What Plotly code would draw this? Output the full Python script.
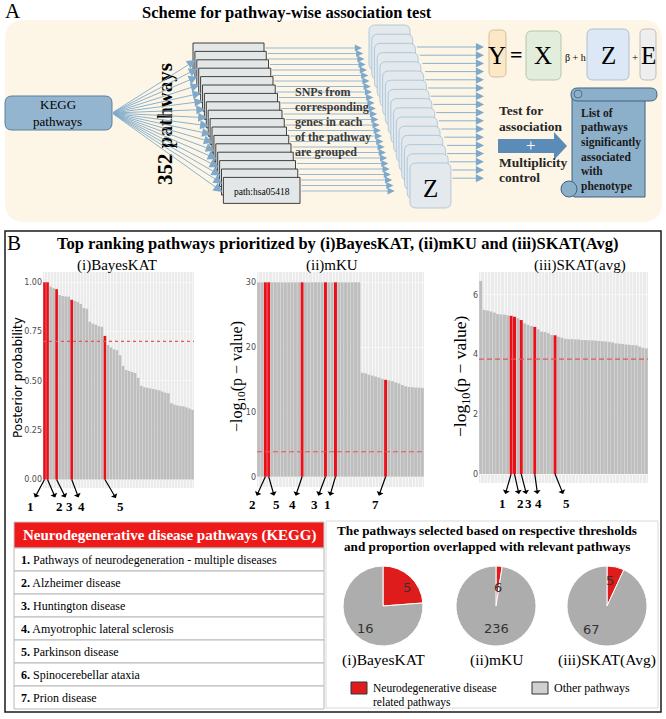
import plotly.graph_objects as go

W, H = 666, 719
SERIF = "Liberation Serif, Times New Roman, serif"
SANS = "DejaVu Sans, Arial, sans-serif"

# ---------------- data ----------------
bar_index = list(range(50))

bayes_values = [1.00, 1.00, 0.978, 0.970, 0.965, 0.935, 0.930, 0.928, 0.927, 0.911,
                0.906, 0.900, 0.890, 0.870, 0.866, 0.800, 0.790, 0.785, 0.777, 0.774,
                0.728, 0.682, 0.670, 0.660, 0.655, 0.630, 0.576, 0.555, 0.550, 0.545,
                0.540, 0.515, 0.475, 0.468, 0.465, 0.462, 0.459, 0.455, 0.452, 0.446,
                0.440, 0.437, 0.387, 0.380, 0.376, 0.372, 0.371, 0.366, 0.360, 0.353]
bayes_highlight = [0, 1, 4, 9, 20]
bayes_numbers = ["1", "2", "3", "4", "5"]
bayes_threshold = 0.70
bayes_tickvals = [0, 0.25, 0.5, 0.75, 1.0]
bayes_ticktext = ["0.00", "0.25", "0.50", "0.75", "1.00"]

mku_values = [30, 30, 30, 30, 30, 30, 30, 30, 30, 30,
              30, 30, 30, 30, 30, 30, 30, 30, 30, 30,
              30, 30, 30, 30, 30, 30, 30, 30, 30, 30,
              30, 16.05, 15.95, 15.75, 15.6, 15.45, 15.3, 15.1, 14.95, 14.85,
              14.75, 14.55, 14.4, 14.15, 13.95, 13.85, 13.8, 13.75, 13.75, 13.7]
mku_highlight = [2, 3, 13, 20, 23, 38]
mku_numbers = ["2", "5", "4", "3", "1", "7"]
mku_threshold = 3.85
mku_tickvals = [0, 10, 20, 30]

skat_values = [6.47, 5.50, 5.48, 5.45, 5.41, 5.36, 5.35, 5.34, 5.32, 5.30,
               5.27, 5.22, 5.16, 5.05, 5.00, 4.96, 4.93, 4.85, 4.77, 4.76,
               4.72, 4.66, 4.65, 4.60, 4.57, 4.53, 4.52, 4.52, 4.51, 4.51,
               4.49, 4.49, 4.48, 4.48, 4.47, 4.46, 4.45, 4.44, 4.43, 4.41,
               4.38, 4.37, 4.36, 4.34, 4.33, 4.32, 4.31, 4.27, 4.23, 4.21]
skat_highlight = [9, 10, 12, 16, 22]
skat_numbers = ["1", "2", "3", "4", "5"]
skat_threshold = 3.85
skat_tickvals = [0, 2, 4, 6]

pie_methods = ["(i)BayesKAT", "(ii)mKU", "(iii)SKAT(Avg)"]
pie_neuro = [5, 6, 5]
pie_other = [16, 236, 67]
pie_categories = ["Neurodegenerative disease related pathways", "Other pathways"]

table_header = "Neurodegenerative disease pathways (KEGG)"
table_numbers = ["1.", "2.", "3.", "4.", "5.", "6.", "7."]
table_names = ["Pathways of neurodegeneration - multiple diseases", "Alzheimer disease",
               "Huntington disease", "Amyotrophic lateral sclerosis", "Parkinson disease",
               "Spinocerebellar ataxia", "Prion disease"]

# ---------------- colours ----------------
RED = "#e8101a"
GRAY_BAR = "#bebebe"
PIE_RED = "#df1c1c"
PIE_GRAY = "#adadad"
ARROW_BLUE = "#7fa9cb"


def fx(x):
    return x / W


def fy(y):
    return 1 - y / H


def pt(x, y):
    return f"{fx(x):.5f},{fy(y):.5f}"


def rrect_path(x0, y0, x1, y1, r):
    return (f"M {pt(x0 + r, y0)} L {pt(x1 - r, y0)} Q {pt(x1, y0)} {pt(x1, y0 + r)} "
            f"L {pt(x1, y1 - r)} Q {pt(x1, y1)} {pt(x1 - r, y1)} L {pt(x0 + r, y1)} "
            f"Q {pt(x0, y1)} {pt(x0, y1 - r)} L {pt(x0, y0 + r)} Q {pt(x0, y0)} {pt(x0 + r, y0)} Z")


def poly_path(points):
    return "M " + " L ".join(pt(x, y) for x, y in points) + " Z"


shapes = []
annotations = []


def add_path(path, fill, lc=None, lw=0):
    shapes.append(dict(type="path", path=path, xref="paper", yref="paper", fillcolor=fill,
                       line=dict(color=lc or fill, width=lw)))


def add_rect(x0, y0, x1, y1, fill, lc, lw):
    shapes.append(dict(type="rect", xref="paper", yref="paper", x0=fx(x0), x1=fx(x1),
                       y0=fy(y1), y1=fy(y0), fillcolor=fill, line=dict(color=lc, width=lw)))


def add_circle(cx, cy, r, fill, lc, lw):
    shapes.append(dict(type="circle", xref="paper", yref="paper", x0=fx(cx - r), x1=fx(cx + r),
                       y0=fy(cy + r), y1=fy(cy - r), fillcolor=fill, line=dict(color=lc, width=lw)))


def T(x, y, text, size, color="black", family=SERIF, xanchor="center", angle=0, bold=False):
    annotations.append(dict(x=fx(x), y=fy(y), xref="paper", yref="paper",
                            text=("<b>" + text + "</b>") if bold else text, showarrow=False,
                            font=dict(family=family, size=size, color=color),
                            xanchor=xanchor, yanchor="middle", textangle=angle))


def ARW(tx, ty, hx, hy, color=ARROW_BLUE, width=0.9, size=2.0):
    annotations.append(dict(x=fx(hx), y=fy(hy), xref="paper", yref="paper",
                            ax=tx - hx, ay=ty - hy, axref="pixel", ayref="pixel", text="",
                            showarrow=True, arrowhead=2, arrowsize=size, arrowwidth=width,
                            arrowcolor=color))


# =================== PART A : scheme ===================
add_path(rrect_path(5, 20, 662, 222, 20), "#fdf6e6")
T(13, 11, "A", 21)
T(287, 12, "Scheme for pathway-wise association test", 16.5, bold=True)

# KEGG box
add_path(rrect_path(5, 96, 112, 130, 7), "#94b5cf", "#5d7f9c", 1)
T(58, 105, "KEGG", 13)
T(58, 121, "pathways", 13)
T(165, 124, "352 pathways", 21, angle=-90, bold=True)

# stack of pathway boxes
rects = []
for i in range(17):
    left = 193 + 1.9 * i
    top = 43 + 8.4 * i
    width = 71 + 0.35 * i
    rects.append((left, top, left + width, top + 26))
for (l, t, r, b) in rects:
    add_rect(l, t, r, b, "#e4e7e7", "#2e2e2e", 0.9)
T(262, 192, "path:hsa05418", 9.5)


def rect_at(y):
    idx = 0
    for i, (l, t, r, b) in enumerate(rects):
        if t <= y <= b:
            idx = i
    return rects[idx]


for i in range(17):
    hy = 60 + 8.25 * i
    l, t, r, b = rect_at(hy)
    ARW(112, 113, l - 1, hy)

# Z cards
cards = []
for j in range(16):
    l = 369 + 2.73 * j
    t = 25 + 9.2 * j
    cards.append((l, t, l + 41, t + 45))
for (l, t, r, b) in cards:
    add_path(rrect_path(l, t, r, b, 6), "#e3e9ec", "#a3c0d8", 0.8)
T(430, 188, "Z", 25)


def card_at(y):
    idx = 0
    for j, (l, t, r, b) in enumerate(cards):
        if t <= y <= b:
            idx = j
    return cards[idx]


for k in range(27):
    y = 48 + 5.5 * k
    l, t, r, b = rect_at(y)
    ARW(r, y, 362 + (y - 48) * 0.229, y, width=0.8, size=1.8)

for n, line in enumerate(["SNPs from", "corresponding", "genes in each", "of the pathway", "are grouped"]):
    T(293, 92 + 15 * n, line, 12, color="#3a3a3a", xanchor="left", bold=True)

for m in range(17):
    y = 47 + 8.2 * m
    l, t, r, b = card_at(y)
    ARW(r, y, 484, y, width=0.9, size=1.8)

# equation boxes
add_path(rrect_path(489, 30, 506, 77, 5), "#fce8c6", "#c8b48e", 0.8)
add_path(rrect_path(526, 31, 561, 80, 6), "#e2eedb", "#a6bda0", 0.8)
add_path(rrect_path(587, 29, 629, 80, 6), "#dce8f5", "#9ab3cc", 0.8)
add_path(rrect_path(640, 29, 656, 80, 5), "#eeeeee", "#b0b0b0", 0.8)
T(497, 56, "Y", 25)
T(516, 55, "=", 22, bold=True)
T(543, 56, "X", 25)
T(575, 57, "β + h", 10)
T(608, 56, "Z", 25)
T(635, 57, "+", 11)
T(648, 56, "E", 25)

# big arrow
add_path(poly_path([(498, 139), (554, 139), (554, 132), (567, 146), (554, 160), (554, 153), (498, 153)]),
         "#5b8cb8")
T(531, 145, "+", 17, color="white")
for line, yy in [("Test for", 110), ("association", 127), ("Multiplicity", 162), ("control", 178)]:
    T(497, yy, line, 13.5, color="#262626", xanchor="left", bold=True)

# scroll
SC_F, SC_L = "#8db0ca", "#3f6282"
add_path(poly_path([(572, 94), (645, 94), (645, 197), (574, 197), (572, 190)]), SC_F, SC_L, 1)
add_circle(569, 189, 8, SC_F, SC_L, 1)
add_path(rrect_path(571, 88, 657, 101, 6.5), SC_F, SC_L, 1)
add_circle(578, 94, 4, SC_F, SC_L, 0.8)
for n, line in enumerate(["List of", "pathways", "significantly", "associated", "with", "phenotype"]):
    T(579, 113 + 14.6 * n, line, 11.5, color="#1a1a1a", xanchor="left", bold=True)

# =================== PART B ===================
add_rect(5, 231, 661, 712, "rgba(0,0,0,0)", "#1a1a1a", 1.5)
T(14, 243, "B", 21)
T(338, 243, "Top ranking pathways prioritized by (i)BayesKAT, (ii)mKU and (iii)SKAT(Avg)", 16.5, bold=True)

panels = [
    dict(vals=bayes_values, hl=bayes_highlight, nums=bayes_numbers, thr=bayes_threshold,
         tv=bayes_tickvals, tt=bayes_ticktext, x=(43, 194), y=(272, 488), rng=[-0.043, 1.052],
         title="(i)BayesKAT", tx=117, dash="3px,3px",
         dx=[-14.5, 11.5, 13.4, 10.3, 16], ay=27),
    dict(vals=mku_values, hl=mku_highlight, nums=mku_numbers, thr=mku_threshold,
         tv=mku_tickvals, tt=[str(v) for v in mku_tickvals], x=(257, 424), y=(272, 487),
         rng=[-1.59, 31.59], title="(ii)mKU", tx=332, dash="5px,3px",
         dx=[-12.7, 8, -9.4, -10.5, -8.2, -9.9], ay=28),
    dict(vals=skat_values, hl=skat_highlight, nums=skat_numbers, thr=skat_threshold,
         tv=skat_tickvals, tt=[str(v) for v in skat_tickvals], x=(479, 648), y=(272, 483),
         rng=[-0.30, 6.77], title="(iii)SKAT(avg)", tx=580, dash="5px,3px",
         dx=[-8.4, 6.5, 7.5, 4, 11.7], ay=29),
]

fig = go.Figure()
layout_axes = {}
for k, p in enumerate(panels):
    sfx = "" if k == 0 else str(k + 1)
    xa, ya = "x" + sfx, "y" + sfx
    colors = [RED if i in p["hl"] else GRAY_BAR for i in bar_index]
    fig.add_trace(go.Bar(x=bar_index, y=p["vals"], marker=dict(color=colors, line=dict(width=0)),
                         xaxis=xa, yaxis=ya, hoverinfo="skip", showlegend=False))
    layout_axes["xaxis" + sfx] = dict(domain=[fx(p["x"][0]), fx(p["x"][1])], anchor=ya,
                                      range=[-0.5, 49.5], showticklabels=False, showgrid=True,
                                      gridcolor="#f7f7f7", gridwidth=0.5, dtick=1, tick0=0,
                                      zeroline=False, ticks="", showline=False, fixedrange=True)
    layout_axes["yaxis" + sfx] = dict(domain=[fy(p["y"][1]), fy(p["y"][0])], anchor=xa,
                                      range=p["rng"], tickvals=p["tv"], ticktext=p["tt"],
                                      tickfont=dict(family=SANS, size=8, color="#4d4d4d"),
                                      showgrid=True, gridcolor="#f7f7f7", gridwidth=0.6,
                                      zeroline=False, ticks="", showline=False, fixedrange=True)
    shapes.append(dict(type="line", xref=xa + " domain", x0=0, x1=1, yref=ya,
                       y0=p["thr"], y1=p["thr"], line=dict(color="#e05858", width=1.2, dash=p["dash"])))
    T(p["tx"], 265, p["title"], 15)
    for idx, lab, dx in zip(p["hl"], p["nums"], p["dx"]):
        annotations.append(dict(x=idx, y=0, xref=xa, yref=ya, text="<b>" + lab + "</b>",
                                showarrow=True, arrowhead=2, arrowside="start", arrowsize=1.1,
                                arrowwidth=1.2, arrowcolor="black", ax=dx, ay=p["ay"],
                                axref="pixel", ayref="pixel",
                                font=dict(family=SERIF, size=13, color="black")))

T(18, 378, "Posterior probability", 12, family=SANS, angle=-90)
T(238, 377, "−log<sub>10</sub>(p − value)", 16, angle=-90)
T(461, 376, "−log<sub>10</sub>(p − value)", 17.5, angle=-90)

# ---------------- table (drawn as cells) ----------------
TB_X0, TB_X1, TB_Y0, HEAD_H, ROW_H = 14, 324, 522, 26, 23
add_rect(TB_X0, TB_Y0, TB_X1, TB_Y0 + HEAD_H, "#ee1a1a", "#c8c8c8", 1)
T((TB_X0 + TB_X1) / 2, TB_Y0 + HEAD_H / 2, table_header, 15, color="white", bold=True)
for i, (num, name) in enumerate(zip(table_numbers, table_names)):
    y0 = TB_Y0 + HEAD_H + ROW_H * i
    add_rect(TB_X0, y0, TB_X1, y0 + ROW_H, "white", "#b8b8b8", 1)
    T(TB_X0 + 5, y0 + ROW_H / 2, "<b>" + num + "</b> " + name, 12, xanchor="left")

# ---------------- pies ----------------
add_rect(326, 521, 658, 708, "rgba(0,0,0,0)", "#d9d9d9", 1)
T(487, 530, "The pathways selected based on respective thresholds", 13.2, bold=True)
T(487, 546, "and proportion overlapped with relevant pathways", 13.2, bold=True)

pie_centers = [(383, 606), (496, 606), (607, 606)]
pie_r = 40
pie_label_offsets = [[(24, -19), (-18, 22)], [(2, -19), (0, 22)], [(3, -26), (-16, 23)]]
for (cx, cy), name, a, b, offs in zip(pie_centers, pie_methods, pie_neuro, pie_other, pie_label_offsets):
    fig.add_trace(go.Pie(values=[a, b], labels=pie_categories, sort=False, direction="clockwise",
                         rotation=0, textinfo="none", hoverinfo="skip", showlegend=False,
                         marker=dict(colors=[PIE_RED, PIE_GRAY], line=dict(color="white", width=1)),
                         domain=dict(x=[fx(cx - pie_r), fx(cx + pie_r)], y=[fy(cy + pie_r), fy(cy - pie_r)])))
    for val, (ox, oy) in zip([a, b], offs):
        T(cx + ox, cy + oy, str(val), 13, color="#333333", family=SANS)
    T(cx, 660, name, 15.5)

words = pie_categories[0].split(" ")
add_rect(351, 682, 367, 694, PIE_RED, "#333333", 1)
T(371, 688, " ".join(words[:2]), 11.5, xanchor="left")
T(371, 702, " ".join(words[2:]), 11.5, xanchor="left")
add_rect(532, 682, 548, 694, "#d0d0d0", "#333333", 1)
T(552, 688, pie_categories[1], 12, xanchor="left")

fig.update_layout(
    width=W, height=H, margin=dict(l=0, r=0, t=0, b=0), autosize=False,
    paper_bgcolor="white", plot_bgcolor="#ebebeb", bargap=0.12, showlegend=False,
    shapes=shapes, annotations=annotations, **layout_axes,
)
fig.write_html("out.html", config={"displayModeBar": False})
